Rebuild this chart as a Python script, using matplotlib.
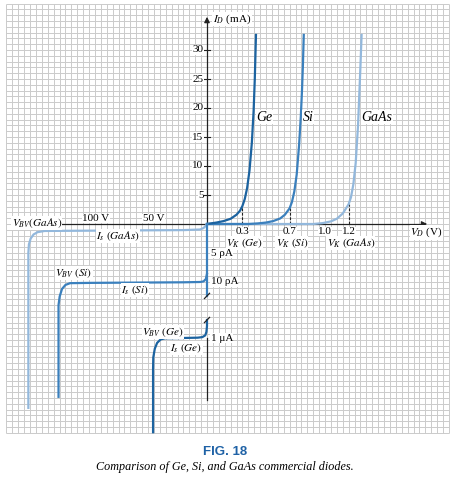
import numpy as np
import matplotlib
matplotlib.use('Agg')
import matplotlib.pyplot as plt

plt.rcParams['font.family'] = ['Liberation Serif', 'DejaVu Serif']
plt.rcParams['mathtext.fontset'] = 'stix'

# Forward characteristics: V_D (V) vs I_D (mA)
ge_v = [0, 0.03, 0.08, 0.14, 0.2, 0.25, 0.28, 0.3, 0.32, 0.34, 0.36, 0.38, 0.395, 0.405, 0.415]
ge_i = [0, 0.1, 0.25, 0.5, 0.9, 1.6, 2.3, 3.1, 4.3, 6.2, 9.2, 14, 19.5, 25, 32.6]
si_v = [0, 0.35, 0.43, 0.5, 0.56, 0.62, 0.66, 0.7, 0.72, 0.74, 0.76, 0.78, 0.795, 0.805, 0.813, 0.82]
si_i = [0, 0, 0.1, 0.25, 0.5, 0.95, 1.6, 2.7, 3.8, 5.6, 8.5, 13.5, 18.5, 23, 27.5, 32.6]
gaas_v = [0, 0.9, 0.98, 1.05, 1.1, 1.15, 1.2, 1.22, 1.24, 1.26, 1.28, 1.29, 1.3, 1.31]
gaas_i = [0, 0, 0.15, 0.45, 0.9, 1.8, 3.4, 4.6, 6.8, 10.5, 17, 22, 27, 32.6]

# knee voltages and the current where the dashed guide meets each curve
knee_v = [0.3, 0.7, 1.2]
knee_i = [3.1, 2.7, 3.4]
knee_names = ['Ge', 'Si', 'GaAs']
x_ticks = [0.3, 0.7, 1.0, 1.2]
y_ticks = [5, 10, 15, 20, 25, 30]

# Reverse characteristics: reverse voltage (V) vs schematic level on the broken current scale
gaas_rv = [0, -1, -3, -6, -20, -60, -100, -140, -146, -149.5, -152, -153.5, -154, -154]
gaas_rl = [0, -0.3, -0.7, -0.95, -1.05, -1.1, -1.15, -1.2, -1.4, -1.8, -2.5, -3.5, -5, -31.7]
si_rv = [0, -1, -3, -6, -20, -60, -100, -118, -122, -125, -127, -128, -128]
si_rl = [-8.6, -9.5, -9.9, -10.0, -10.05, -10.1, -10.15, -10.2, -10.5, -11.2, -12.5, -14, -29.8]
ge_rv = [0, 0, -0.5, -1.5, -4, -8, -20, -36, -40, -43, -45, -46.3, -46.5, -46.5]
ge_rl = [-16.55, -17.6, -18.6, -19.2, -19.5, -19.6, -19.65, -19.7, -19.9, -20.5, -21.5, -23, -25, -35.9]
rev_ticks = [-100, -50]
rev_tick_labels = ['100 V', '50 V']
rev_current_labels = ['5 ρA', '10 ρA', '1 μA']
rev_current_levels = [-5.0, -10.0, -19.66]
break_levels = [-12.4, -16.55]

c_ge = '#1c63a0'
c_si = '#3b80bd'
c_gaas = '#93b8dc'
fs = 8
white = dict(fc='white', ec='none', pad=0.3)
tight = dict(fc='white', ec='none', pad=0.05)

fig = plt.figure(figsize=(4.5, 4.8), dpi=100)
ax = fig.add_axes([0, 0, 1, 1])
ax.set_xlim(-207 / 118, 243 / 118)
ax.set_ylim((224 - 480) / 5.8, 224 / 5.8)
ax.axis('off')

rev = fig.add_axes([0, 0, 1, 1], frameon=False)
rev.set_xlim(-207 / 1.16, 243 / 1.16)
rev.set_ylim(ax.get_ylim())
rev.axis('off')

# grid paper
gx = np.arange(-1.70, 2.051, 0.05)
gy = np.arange(-36, 38.1, 1)
ax.vlines(gx, gy[0], gy[-1], color='#cbcbcb', lw=0.7, zorder=0)
ax.hlines(gy, gx[0], gx[-1], color='#cbcbcb', lw=0.7, zorder=0)

# axes
ax.plot([-1.228, 1.84], [0, 0], color='#222222', lw=0.9, zorder=2)
ax.annotate('', xy=(1.89, 0), xytext=(1.80, 0),
            arrowprops=dict(arrowstyle='-|>', color='#222222', lw=0.9, mutation_scale=8), zorder=2)
ax.plot([0, 0], [0, 35.0], color='#222222', lw=0.9, zorder=2)
ax.annotate('', xy=(0, 36.2), xytext=(0, 34.5),
            arrowprops=dict(arrowstyle='-|>', color='#222222', lw=0.9, mutation_scale=8), zorder=2)
ax.plot([0, 0], [-19.66, -30.3], color='#222222', lw=0.9, zorder=2)
for t in y_ticks:
    ax.plot([-0.025, 0.025], [t, t], color='#222222', lw=0.8, zorder=2)
    ax.text(-0.03, t, str(t), ha='right', va='center', fontsize=fs,
            bbox=dict(fc='white', ec='none', pad=0.3), zorder=3)

# forward curves
ax.plot(gaas_v, gaas_i, color=c_gaas, lw=1.6, zorder=4)
ax.plot(si_v, si_i, color=c_si, lw=1.6, zorder=4)
ax.plot(ge_v, ge_i, color=c_ge, lw=1.6, zorder=4)
for v, i in zip(knee_v, knee_i):
    ax.plot([v, v], [0, i], color='#222222', lw=0.8, ls=(0, (2.5, 1.5)), zorder=3)

for x0, name in zip([0.42, 0.81, 1.31], knee_names):
    ax.text(x0, 18.4, name, style='italic', fontsize=10, va='center',
            bbox=dict(fc='white', ec='none', pad=0.5), zorder=5)

for t in x_ticks:
    ax.text(t, -1.25, f'{t:.1f}', ha='center', va='center', fontsize=fs,
            bbox=tight, zorder=5)
for v, name in zip(knee_v, knee_names):
    ax.text(v + 0.02, -3.35, rf'$V_K\ ({name})$', ha='center', va='center', fontsize=fs,
            bbox=tight, zorder=5)
ax.text(1.72, -1.45, r'$V_D$ (V)', ha='left', va='center', fontsize=fs, bbox=white, zorder=5)
ax.text(0.05, 35.3, r'$I_D$ (mA)', ha='left', va='center', fontsize=fs, bbox=white, zorder=5)

# reverse curves
rev.plot(gaas_rv, gaas_rl, color=c_gaas, lw=1.6, zorder=4)
rev.plot([0, 0], [0, break_levels[0]], color=c_si, lw=1.6, zorder=4)
rev.plot(si_rv, si_rl, color=c_si, lw=1.6, zorder=4)
rev.plot(ge_rv, ge_rl, color=c_ge, lw=1.6, zorder=4)
for lvl in break_levels:
    rev.plot([-2.2, 2.2], [lvl - 0.45, lvl + 0.45], color='#222222', lw=0.9, zorder=5)

for v, lab in zip(rev_ticks, rev_tick_labels):
    rev.text(v + 4, 0.95, lab, ha='center', va='center', fontsize=fs, bbox=white, zorder=5)
for lab, lvl in zip(rev_current_labels, rev_current_levels):
    ax.text(0.03, lvl, lab, ha='left', va='center', fontsize=fs, bbox=white, zorder=5)

rev.text(-125, 0.15, r'$V_{BV}(GaAs)$', ha='right', va='center', fontsize=fs, bbox=white, zorder=5)
rev.text(-76.7, -2.07, r'$I_s\ (GaAs)$', ha='center', va='center', fontsize=fs, bbox=white, zorder=5)
rev.text(-114.7, -8.45, r'$V_{BV}\ (Si)$', ha='center', va='center', fontsize=fs, bbox=white, zorder=5)
rev.text(-62, -11.4, r'$I_s\ (Si)$', ha='center', va='center', fontsize=fs, bbox=white, zorder=5)
rev.text(-38, -18.6, r'$V_{BV}\ (Ge)$', ha='center', va='center', fontsize=fs, bbox=white, zorder=5)
rev.text(-18, -21.4, r'$I_s\ (Ge)$', ha='center', va='center', fontsize=fs, bbox=white, zorder=5)

# caption
fig.text(0.5, 1 - 452 / 480, 'FIG. 18', ha='center', va='center', fontsize=9.5,
         fontweight='bold', family=['Liberation Sans', 'DejaVu Sans'], color='#1f62a6')
fig.text(0.5, 1 - 467 / 480, 'Comparison of Ge, Si, and GaAs commercial diodes.',
         ha='center', va='center', fontsize=8.7, style='italic')

fig.savefig('out.png', dpi=100)
